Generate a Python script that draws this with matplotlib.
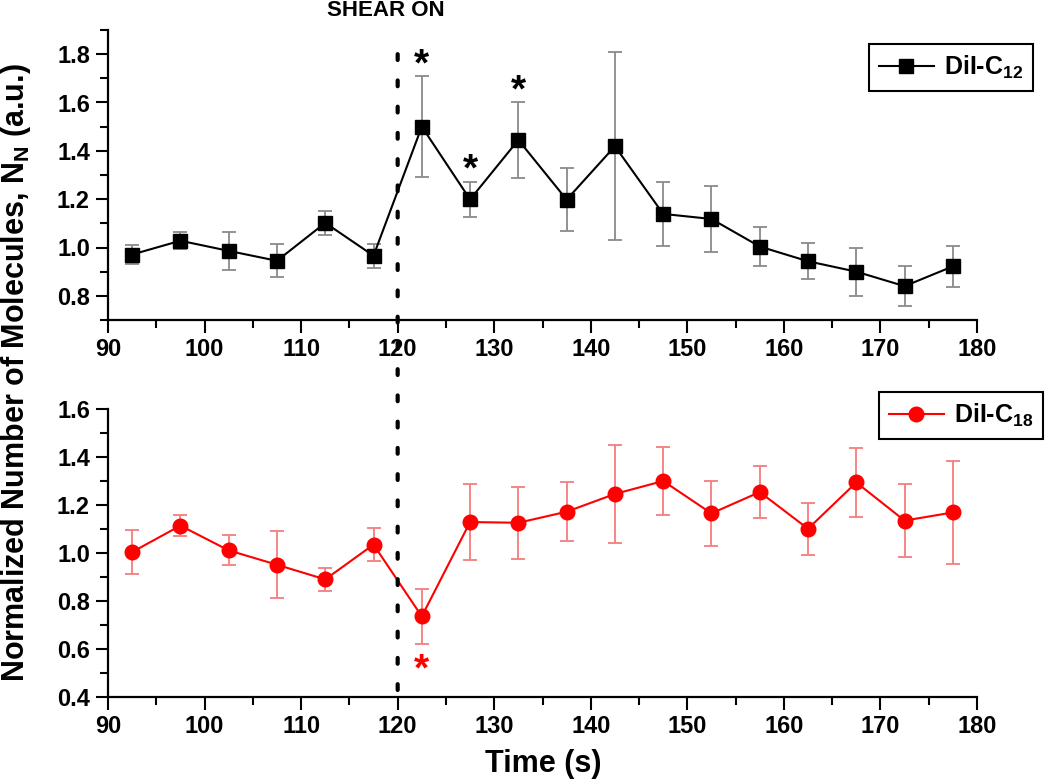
import matplotlib
matplotlib.use("Agg")
import matplotlib.pyplot as plt
from matplotlib.patches import ConnectionPatch
from matplotlib.ticker import MultipleLocator

plt.rcParams['font.family'] = ['Liberation Sans', 'DejaVu Sans']
plt.rcParams['font.weight'] = 'bold'
plt.rcParams['mathtext.fontset'] = 'custom'
plt.rcParams['mathtext.rm'] = 'Liberation Sans:bold'
plt.rcParams['mathtext.it'] = 'Liberation Sans:bold'
plt.rcParams['mathtext.bf'] = 'Liberation Sans:bold'

# ---- data ----
time_s = [92.5, 97.5, 102.5, 107.5, 112.5, 117.5, 122.5, 127.5, 132.5,
          137.5, 142.5, 147.5, 152.5, 157.5, 162.5, 167.5, 172.5, 177.5]
c12_mean = [0.971, 1.028, 0.986, 0.945, 1.102, 0.966, 1.500, 1.199, 1.445,
            1.198, 1.419, 1.139, 1.118, 1.004, 0.943, 0.900, 0.840, 0.922]
c12_err = [0.040, 0.035, 0.078, 0.068, 0.050, 0.050, 0.210, 0.074, 0.157,
           0.130, 0.390, 0.134, 0.137, 0.080, 0.075, 0.100, 0.082, 0.086]
c18_mean = [1.004, 1.114, 1.011, 0.951, 0.890, 1.035, 0.736, 1.129, 1.126,
            1.172, 1.246, 1.300, 1.165, 1.254, 1.101, 1.294, 1.135, 1.169]
c18_err = [0.092, 0.045, 0.063, 0.139, 0.048, 0.070, 0.115, 0.158, 0.151,
           0.124, 0.206, 0.140, 0.134, 0.109, 0.108, 0.145, 0.152, 0.213]
c12_star_x = [122.5, 127.5, 132.5]
c12_star_y = [1.755, 1.317, 1.647]
c18_star_x = [122.5]
c18_star_y = [0.51]
shear_time = 120
label_c12 = 'DiI-C$_{12}$'
label_c18 = 'DiI-C$_{18}$'

W, H = 1050, 783
fig = plt.figure(figsize=(W / 100, H / 100), dpi=100)

def fx(p):
    return p / W

def fy(p):
    return 1 - p / H

left, right = fx(108), fx(977)
ax1 = fig.add_axes([left, fy(320), right - left, fy(30) - fy(320)])
ax2 = fig.add_axes([left, fy(697), right - left, fy(409) - fy(697)])

def style(ax, ylim):
    ax.set_xlim(90, 180)
    ax.set_ylim(*ylim)
    for s in ['top', 'right']:
        ax.spines[s].set_visible(False)
    for s in ['left', 'bottom']:
        ax.spines[s].set_linewidth(1.6)
    ax.xaxis.set_major_locator(MultipleLocator(10))
    ax.xaxis.set_minor_locator(MultipleLocator(5))
    ax.yaxis.set_major_locator(MultipleLocator(0.2))
    ax.yaxis.set_minor_locator(MultipleLocator(0.1))
    ax.tick_params(which='major', length=9, width=1.5, labelsize=17, direction='out', pad=4)
    ax.tick_params(which='minor', length=5.5, width=1.5, direction='out')
    ax.yaxis.set_major_formatter(plt.FuncFormatter(lambda v, p: f"{v:.1f}"))
    for lab in ax.get_xticklabels() + ax.get_yticklabels():
        lab.set_fontweight('bold')

style(ax1, (0.7, 1.9))
style(ax2, (0.4, 1.6))

# top panel
ax1.errorbar(time_s, c12_mean, yerr=c12_err, fmt='none', ecolor='#8a8a8a',
             elinewidth=1.3, capsize=4.8, capthick=1.3, zorder=2)
l1, = ax1.plot(time_s, c12_mean, '-s', color='black', lw=1.5, ms=9.5, zorder=3,
               label=label_c12)
for x, y in zip(c12_star_x, c12_star_y):
    ax1.text(x, y, '*', ha='center', va='center', fontsize=28, fontweight='bold',
             color='black')

# bottom panel
ax2.errorbar(time_s, c18_mean, yerr=c18_err, fmt='none', ecolor='#f47c7c',
             elinewidth=1.3, capsize=4.8, capthick=1.3, zorder=2)
l2, = ax2.plot(time_s, c18_mean, '-o', color='#ff0000', lw=1.5, ms=10.5, zorder=3,
               label=label_c18)
for x, y in zip(c18_star_x, c18_star_y):
    ax2.text(x, y, '*', ha='center', va='center', fontsize=28, fontweight='bold',
             color='#ff0000')

# legends
legkw = dict(loc='upper right', bbox_transform=fig.transFigure,
             fontsize=18, handlelength=2.2, handletextpad=0.4, borderpad=0.4,
             fancybox=False, framealpha=1, edgecolor='black', borderaxespad=0)
leg1 = fig.legend(handles=[l1], bbox_to_anchor=(fx(1033), fy(44)), **legkw)
leg1.get_frame().set_linewidth(1.5)
leg2 = fig.legend(handles=[l2], bbox_to_anchor=(fx(1043), fy(392)), **legkw)
leg2.get_frame().set_linewidth(1.5)

# shear-on dotted line spanning both panels
con = ConnectionPatch(xyA=(shear_time, 1.8), coordsA=ax1.transData,
                      xyB=(shear_time, 0.4), coordsB=ax2.transData,
                      arrowstyle='-', linestyle=(0, (1.4, 4.9)), linewidth=3,
                      color='black', zorder=5)
fig.add_artist(con)

fig.text(fx(386), fy(11), 'SHEAR ON', ha='center', va='center', fontsize=16,
         fontweight='bold')

fig.text(fx(16), fy(373), 'Normalized Number of Molecules, N$_{\\mathrm{N}}$ (a.u.)',
         rotation=90, ha='center', va='center', fontsize=22, fontweight='bold')
fig.text(fx(543), fy(764), 'Time (s)', ha='center', va='center', fontsize=22,
         fontweight='bold')

fig.savefig('out.png', dpi=100)
